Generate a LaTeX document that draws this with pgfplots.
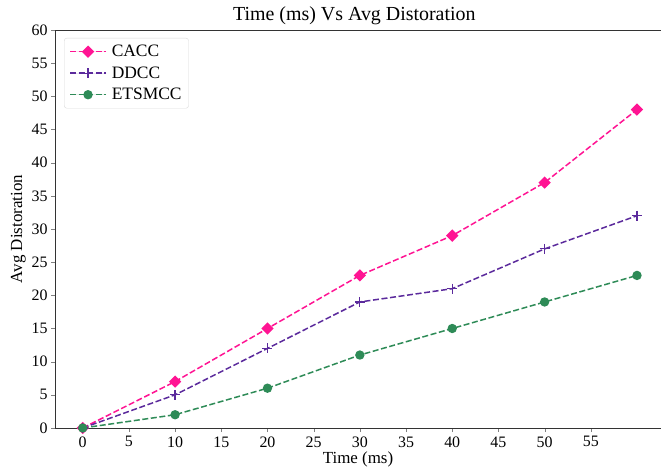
\documentclass[border=0pt]{standalone}
\usepackage{fontspec}
\setmainfont{Liberation Serif}
\usepackage{pgfplots}
\pgfplotsset{compat=1.18}

\definecolor{cacc}{HTML}{FF1493}
\definecolor{ddcc}{HTML}{5B2A9C}
\definecolor{etsmcc}{HTML}{2E8B57}

\begin{document}
\begin{tikzpicture}
\begin{axis}[
    scale only axis,
    width=606bp, height=398bp,
    xmin=-3, xmax=62.6,
    ymin=0, ymax=60,
    xtick={0,5,...,55},
    ytick={0,5,...,60},
    tick pos=left,
    tick align=outside,
    major tick length=4bp,
    axis line style={draw=none},
    clip=false,
    /pgf/number format/assume math mode=true,
    tick label style={font=\fontsize{16}{16}\selectfont},
    xticklabel style={yshift=-1bp},
    title={Time (ms) Vs Avg Distoration},
    title style={font=\fontsize{20}{20}\selectfont, at={(0.494,1)}, yshift=-4bp},
    xlabel={Time (ms)},
    ylabel={Avg Distoration},
    label style={font=\fontsize{17}{17}\selectfont},
    xlabel style={yshift=2bp},
    ylabel style={yshift=-1bp},
    legend style={at={(0.015,0.98)}, anchor=north west, draw=gray!30,
        rounded corners=2.5pt, font=\fontsize{17.5}{17.5}\selectfont,
        row sep=4.5bp, column sep=3bp, inner xsep=5bp, inner ysep=5bp},
    legend cell align=left,
    legend image code/.code={
        \draw[#1, mark=none, sharp corners] (0bp,0bp) -- (36bp,0bp);
        \draw[#1, only marks, sharp corners] plot coordinates {(18bp,0bp)};
    },
    every axis plot/.append style={line width=1.5bp, dash pattern=on 6bp off 2.6bp},
]
\draw[line width=0.9bp, black!80] (rel axis cs:0,0) -- (rel axis cs:1,0);
\draw[line width=0.9bp, black!80] (rel axis cs:0,1) -- (rel axis cs:1,1);
\draw[line width=0.9bp, black!80] (rel axis cs:0,0) -- (rel axis cs:0,1);

\addplot[color=cacc, mark=square*, mark size=3.6bp, mark options={solid, rotate=45}, forget plot] coordinates {
    (0,0) (10,7) (20,15) (30,23) (40,29) (50,37) (60,48)
};
\addplot[color=ddcc, mark=+, mark size=5bp, mark options={solid, line width=1.2bp}, forget plot] coordinates {
    (0,0) (10,5) (20,12) (30,19) (40,21) (50,27) (60,32)
};
\addplot[color=etsmcc, mark=*, mark size=3.9bp, mark options={solid}, forget plot] coordinates {
    (0,0) (10,2) (20,6) (30,11) (40,15) (50,19) (60,23)
};
\addlegendimage{color=cacc, draw=cacc, fill=cacc, line width=1.5bp, dash pattern=on 6bp off 2.6bp,
    mark=square*, mark size=3.6bp, mark options={solid, rotate=45}}
\addlegendentry{CACC}
\addlegendimage{color=ddcc, draw=ddcc, fill=ddcc, line width=1.5bp, dash pattern=on 6bp off 2.6bp,
    mark=+, mark size=5bp, mark options={solid, line width=1.2bp}}
\addlegendentry{DDCC}
\addlegendimage{color=etsmcc, draw=etsmcc, fill=etsmcc, line width=1.5bp, dash pattern=on 6bp off 2.6bp,
    mark=*, mark size=3.9bp, mark options={solid}}
\addlegendentry{ETSMCC}
\end{axis}
\pgfresetboundingbox
\path (-55bp,-46bp) rectangle (606bp,428bp);
\end{tikzpicture}
\end{document}
